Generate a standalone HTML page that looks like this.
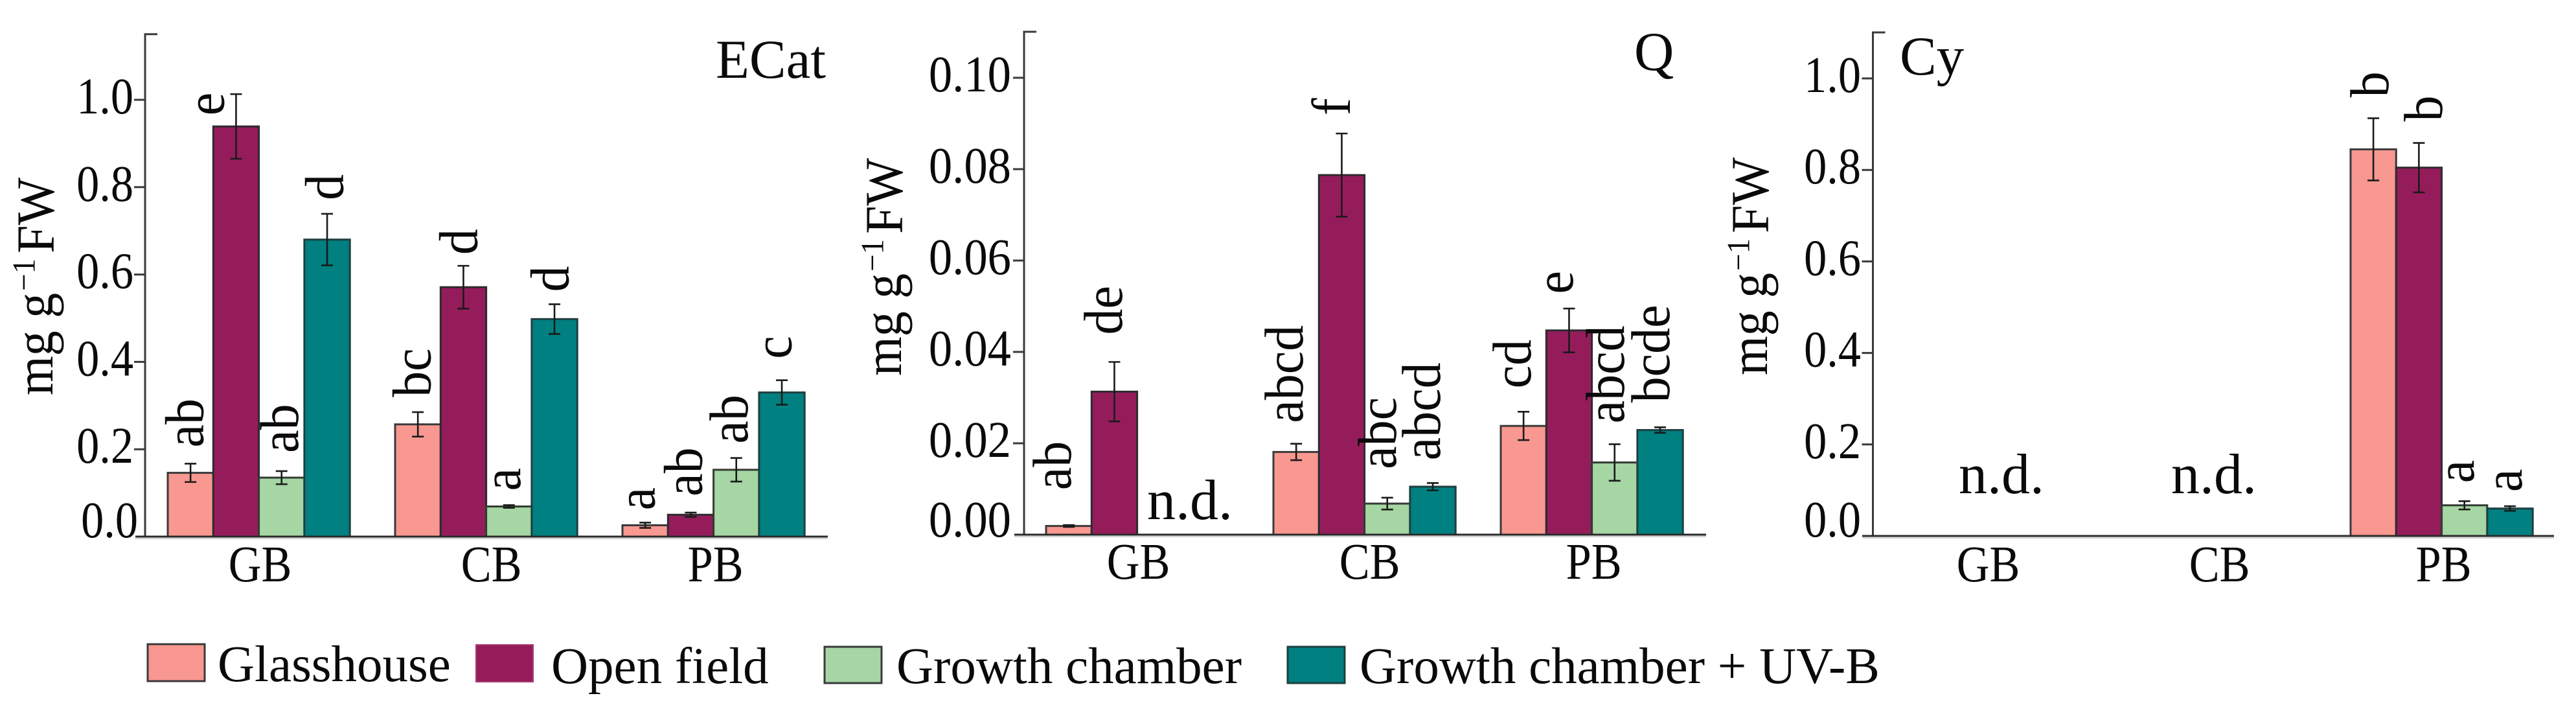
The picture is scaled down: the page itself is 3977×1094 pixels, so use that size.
<!DOCTYPE html>
<html lang="en">
<head>
<meta charset="utf-8">
<title>Flavonoid content by treatment</title>
<style>
html,body{margin:0;padding:0;background:#fff;}
svg{display:block;}
text{font-family:"Liberation Serif",serif;fill:#0a0a0a;}
</style>
</head>
<body>
<svg id="chart" xmlns="http://www.w3.org/2000/svg" width="3977" height="1094" viewBox="0 0 3977 1094">
  <rect x="0" y="0" width="3977" height="1094" fill="#ffffff"/>

  <g id="panel-ecat"></g>
  <g id="panel-q"></g>
  <g id="panel-cy"></g>

  <text x="1105" y="120" font-size="85">ECat</text>
  <text x="2523" y="108" font-size="85">Q</text>
  <text x="2933" y="115" font-size="85">Cy</text>

  <text font-size="78" transform="translate(81,610) rotate(-90) scale(1,1.06)">mg g<tspan font-size="47" dy="-26" dx="3">−1</tspan><tspan dy="28" dx="8">FW</tspan></text>
  <text font-size="78" transform="translate(1391,580) rotate(-90) scale(1,1.06)">mg g<tspan font-size="47" dy="-26" dx="3">−1</tspan><tspan dy="28" dx="8">FW</tspan></text>
  <text font-size="78" transform="translate(2728,579) rotate(-90) scale(1,1.06)">mg g<tspan font-size="47" dy="-26" dx="3">−1</tspan><tspan dy="28" dx="8">FW</tspan></text>

  <text x="1771" y="801" font-size="88">n.d.</text>
  <text x="3024" y="761" font-size="88">n.d.</text>
  <text x="3352" y="761" font-size="88">n.d.</text>

  <g>
    <g>
      <rect x="228" y="994" width="88" height="57" fill="#F89890" stroke="#3a3a3a" stroke-width="3"/>
      <text x="336" y="1051" font-size="79">Glasshouse</text>
    </g>
    <g>
      <rect x="735" y="995" width="88" height="57" fill="#951C5B" stroke="#a83a72" stroke-width="2"/>
      <text x="851" y="1054" font-size="79">Open field</text>
    </g>
    <g>
      <rect x="1273" y="998" width="88" height="56" fill="#A5D6A3" stroke="#3a3a3a" stroke-width="3"/>
      <text x="1384" y="1054" font-size="79">Growth chamber</text>
    </g>
    <g>
      <rect x="1988" y="998" width="88" height="56" fill="#008080" stroke="#1f3f3f" stroke-width="3"/>
      <text x="2099" y="1054" font-size="79">Growth chamber + UV-B</text>
    </g>
  </g>
</svg>

<script>
// ---------- Shared categories and colours ----------
const categories = ['GB', 'CB', 'PB'];
const seriesKeys = ['glasshouse', 'open-field', 'growth-chamber', 'growth-chamber-uvb'];

// ---------- ECat values (mg/g FW), one entry per category ----------
const ecatGlasshouse = [0.146, 0.257, 0.026];
const ecatOpenField = [0.939, 0.571, 0.050];
const ecatChamber = [0.135, 0.069, 0.153];
const ecatChamberUv = [0.680, 0.498, 0.330];
const ecatGlasshouseErr = [0.021, 0.028, 0.006];
const ecatOpenFieldErr = [0.074, 0.049, 0.005];
const ecatChamberErr = [0.015, 0.003, 0.027];
const ecatChamberUvErr = [0.059, 0.034, 0.028];
const ecatTickValues = [0, 0.2, 0.4, 0.6, 0.8, 1.0];
const ecatTickLabels = ['0.0', '0.2', '0.4', '0.6', '0.8', '1.0'];
const ecatLetters = ['ab', 'e', 'ab', 'd', 'bc', 'd', 'a', 'd', 'a', 'ab', 'ab', 'c'];

// ---------- Q values ----------
const qGlasshouse = [0.0019, 0.0181, 0.0238];
const qOpenField = [0.0313, 0.0787, 0.0447];
const qChamber = [null, 0.0068, 0.0158];
const qChamberUv = [null, 0.0105, 0.0229];
const qGlasshouseErr = [0.0002, 0.0018, 0.0031];
const qOpenFieldErr = [0.0065, 0.0091, 0.0048];
const qChamberErr = [null, 0.0013, 0.0040];
const qChamberUvErr = [null, 0.0008, 0.0006];
const qTickValues = [0, 0.02, 0.04, 0.06, 0.08, 0.10];
const qTickLabels = ['0.00', '0.02', '0.04', '0.06', '0.08', '0.10'];
const qLetters = ['ab', 'de', null, null, 'abcd', 'f', 'abc', 'abcd', 'cd', 'e', 'abcd', 'bcde'];

// ---------- Cy values ----------
const cyGlasshouse = [null, null, 0.845];
const cyOpenField = [null, null, 0.805];
const cyChamber = [null, null, 0.067];
const cyChamberUv = [null, null, 0.060];
const cyGlasshouseErr = [null, null, 0.068];
const cyOpenFieldErr = [null, null, 0.054];
const cyChamberErr = [null, null, 0.009];
const cyChamberUvErr = [null, null, 0.005];
const cyTickValues = [0, 0.2, 0.4, 0.6, 0.8, 1.0];
const cyTickLabels = ['0.0', '0.2', '0.4', '0.6', '0.8', '1.0'];
const cyLetters = [null, null, null, null, null, null, null, null, 'b', 'b', 'a', 'a'];

// ---------- Layout (kept apart from the data) ----------
const barColours = ['#F89890', '#951C5B', '#A5D6A3', '#008080'];
const barStrokes = ['#3a3a3a', '#2e2a30', '#333a33', '#1f3f3f'];
const barWidth = 70.3;
const groupPitch = 351;
const categoryLabelShift = [2, 8, 3];

const ecatLayout = {
  id: 'ecat', root: 'panel-ecat', axisX: 224, axisLeft: 209, axisRight: 1278, top: 52.7, base: 828,
  unit: 674, groupStart: 259, labelRight: 206, labelScale: 0.89, labelBaseY: 897, zeroLift: 20, zeroShift: 7,
  letterShift: [19.5, -19, 25, 24.5, 19.5, 21, 17, 21.5, 14.5, 17, 17, 14.5],
  letterLift: [25, -33, 28, 21, 23, 17, 22, 19, 19, 25, 22, 33]
};
const qLayout = {
  id: 'q', root: 'panel-q', axisX: 1581, axisLeft: 1566, axisRight: 2634, top: 49, base: 825,
  unit: 7050, groupStart: 1615, labelRight: 1561, labelScale: 0.92, labelBaseY: 893, zeroLift: 18, zeroShift: 0,
  letterShift: [3, 11.5, 0, 0, 10, 12.5, 13, 11, 11, 5.5, 14, 14],
  letterLift: [54, 42, 0, 0, 32, 28, 44, 35, 36, 22.5, 32, 38]
};
const cyLayout = {
  id: 'cy', root: 'panel-cy', axisX: 2891.5, axisLeft: 2875, axisRight: 3943, top: 50, base: 827,
  unit: 706, groupStart: 2927, labelRight: 2873, labelScale: 0.89, labelBaseY: 897, zeroLift: 20, zeroShift: 0,
  letterShift: [0, 0, 0, 0, 0, 0, 0, 0, 23, 35.5, 14, 18],
  letterLift: [0, 0, 0, 0, 0, 0, 0, 0, 32, 33, 28, 22]
};

const SVG_NS = 'http://www.w3.org/2000/svg';

function make(tag, parent, attrs) {
  const el = document.createElementNS(SVG_NS, tag);
  for (const k in attrs) el.setAttribute(k, attrs[k]);
  parent.appendChild(el);
  return el;
}

function drawPanel(layout, series, errors, tickValues, tickLabels, letters) {
  const root = document.getElementById(layout.root);
  const yScale = function (v) { return layout.base - v * layout.unit; };
  const groupX = function (c) { return layout.groupStart + c * groupPitch; };
  const barX = function (c, s) { return groupX(c) + s * barWidth; };

  // soft grey edge under the x axis
  const shadow = make('line', root, {
    x1: layout.axisLeft, x2: layout.axisRight, y1: layout.base + 3, y2: layout.base + 3,
    stroke: '#d4d4d4', 'stroke-width': 2
  });
  
  

  // bars
  series.forEach(function (values, s) {
    values.forEach(function (v, c) {
      if (v === null) return;
      const bar = make('rect', root, {
        x: barX(c, s), y: yScale(v), width: barWidth, height: layout.base - yScale(v),
        fill: barColours[s], stroke: barStrokes[s], 'stroke-width': 3
      });
      
      
    });
  });

  // error bars
  series.forEach(function (values, s) {
    values.forEach(function (v, c) {
      if (v === null) return;
      const e = errors[s][c];
      const cx = barX(c, s) + barWidth / 2;
      const yHigh = yScale(v + e);
      const yLow = yScale(v - e);
      const capHalf = 9;
      const d = 'M' + cx + ' ' + yHigh + 'V' + yLow +
        'M' + (cx - capHalf) + ' ' + yHigh + 'H' + (cx + capHalf) +
        'M' + (cx - capHalf) + ' ' + yLow + 'H' + (cx + capHalf);
      const eb = make('path', root, { d: d, fill: 'none', stroke: '#1a1a1a', 'stroke-width': 2.6 });
      
      
    });
  });

  // significance letters
  letters.forEach(function (letter, i) {
    if (letter === null) return;
    const c = Math.floor(i / 4);
    const s = i % 4;
    const v = series[s][c];
    const e = errors[s][c];
    const cx = barX(c, s) + barWidth / 2 + layout.letterShift[i];
    const cy = yScale(v + e) - layout.letterLift[i];
    const t = make('text', root, {
      transform: 'translate(' + cx + ',' + cy + ') rotate(-90) scale(1,1.06)',
      'font-size': 80
    });
    t.textContent = letter;
    
    
  });

  // y axis line
  const yLine = make('path', root, {
    d: 'M' + (layout.axisX + 19) + ' ' + layout.top + 'H' + layout.axisX + 'V' + layout.base,
    fill: 'none', stroke: '#3a3a3a', 'stroke-width': 3
  });
  
  

  // x axis line
  const xLine = make('line', root, {
    x1: layout.axisLeft, x2: layout.axisRight, y1: layout.base, y2: layout.base,
    stroke: '#2a2a2a', 'stroke-width': 3
  });
  
  

  // y ticks and labels
  tickValues.forEach(function (v, i) {
    const y = yScale(v);
    if (v !== 0) {
      const tick = make('line', root, {
        x1: layout.axisX - 17, x2: layout.axisX, y1: y, y2: y, stroke: '#3a3a3a', 'stroke-width': 3
      });
      
      
    }
    const isZero = v === 0;
    const lx = layout.labelRight + (isZero ? layout.zeroShift : 0);
    const ly = y + 21 - (isZero ? layout.zeroLift : 0);
    const label = make('text', root, {
      transform: 'translate(' + lx + ',' + ly + ') scale(' + layout.labelScale + ',1)',
      'text-anchor': 'end', 'font-size': 79
    });
    label.textContent = tickLabels[i];
    
    
  });

  // x category labels
  categories.forEach(function (name, c) {
    const lx = groupX(c) + 2 * barWidth + categoryLabelShift[c];
    const label = make('text', root, {
      transform: 'translate(' + lx + ',' + layout.labelBaseY + ') scale(0.89,1)',
      'text-anchor': 'middle', 'font-size': 79
    });
    label.textContent = name;
    
    
  });
}

drawPanel(ecatLayout,
  [ecatGlasshouse, ecatOpenField, ecatChamber, ecatChamberUv],
  [ecatGlasshouseErr, ecatOpenFieldErr, ecatChamberErr, ecatChamberUvErr],
  ecatTickValues, ecatTickLabels, ecatLetters);
drawPanel(qLayout,
  [qGlasshouse, qOpenField, qChamber, qChamberUv],
  [qGlasshouseErr, qOpenFieldErr, qChamberErr, qChamberUvErr],
  qTickValues, qTickLabels, qLetters);
drawPanel(cyLayout,
  [cyGlasshouse, cyOpenField, cyChamber, cyChamberUv],
  [cyGlasshouseErr, cyOpenFieldErr, cyChamberErr, cyChamberUvErr],
  cyTickValues, cyTickLabels, cyLetters);
</script>
</body>
</html>
